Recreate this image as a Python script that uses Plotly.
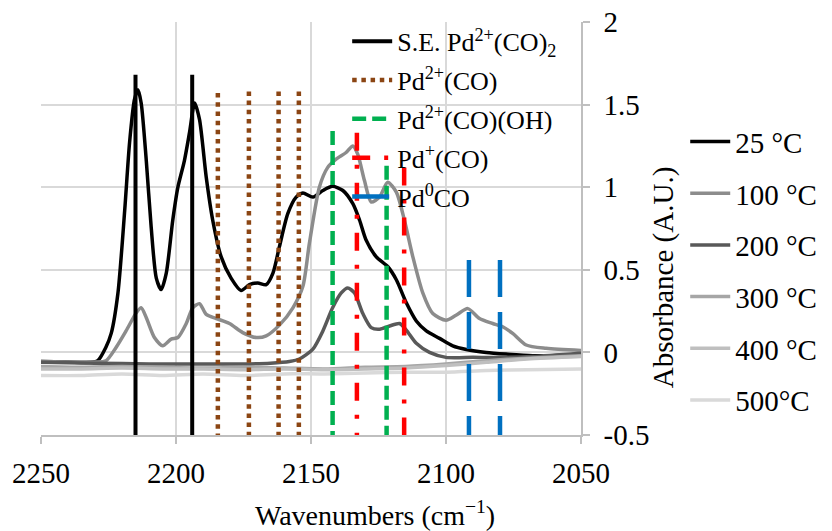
import plotly.graph_objects as go

FONT = "Liberation Serif, DejaVu Serif, Times New Roman, serif"

# ---- spectra (wavenumber, absorbance) ----
wn_25 = [2250, 2240, 2232, 2229, 2226, 2224, 2221.5, 2219, 2217.2, 2215.4, 2214.1, 2212.9, 2211, 2209.2,
         2207.3, 2205.5, 2203.6, 2201.2, 2199.3, 2196.9, 2195, 2193.1, 2191.3, 2188.8, 2186.4, 2183.3,
         2179.6, 2175.9, 2172.8, 2169.7, 2166.6, 2164.1, 2161.7, 2158.6, 2155.5, 2153, 2149.3, 2145.6,
         2142, 2138.2, 2134.5, 2132, 2129.6, 2125.9, 2121.6, 2118.4, 2114.7, 2111, 2107.3, 2102.4,
         2097.5, 2092.5, 2085.1, 2077.7, 2067.9, 2060.4, 2050]
ab_25 = [-0.055, -0.058, -0.06, -0.05, 0.03, 0.115, 0.36, 0.86, 1.27, 1.53, 1.59, 1.51, 1.16, 0.76,
         0.45, 0.38, 0.48, 0.80, 1.0, 1.16, 1.33, 1.51, 1.41, 1.06, 0.80, 0.58,
         0.45, 0.375, 0.41, 0.42, 0.41, 0.48, 0.64, 0.84, 0.94, 0.965, 0.94, 0.98,
         1.005, 0.98, 0.90, 0.80, 0.68, 0.58, 0.52, 0.44, 0.30, 0.19, 0.13, 0.085,
         0.04, 0.018, 0.0, -0.01, -0.02, -0.02, -0.01]

wn_100 = [2250, 2240, 2230, 2225.9, 2222.2, 2218.5, 2214.7, 2212.9, 2211, 2208, 2204.9, 2201.8, 2199.3,
          2196.2, 2193.8, 2191.3, 2188.8, 2185.1, 2180.2, 2175.3, 2170.3, 2166.6, 2161.7, 2156.7, 2153,
          2150.6, 2146.9, 2143.8, 2140.7, 2137, 2134.5, 2132.7, 2130.2, 2127.7, 2124.6, 2121.6, 2118.4,
          2115.4, 2112.3, 2108.6, 2104.9, 2100, 2096.3, 2091.9, 2087.6, 2082.7, 2079, 2075.3, 2070.3,
          2062.9, 2050]
ab_100 = [-0.055, -0.058, -0.058, -0.05, 0.03, 0.13, 0.24, 0.27, 0.21, 0.09, 0.04, 0.08, 0.09,
          0.175, 0.27, 0.295, 0.23, 0.205, 0.175, 0.12, 0.09, 0.10, 0.165, 0.27, 0.40,
          0.66, 1.0, 1.12, 1.17, 1.21, 1.25, 1.20, 1.04, 0.91, 0.94, 1.03, 0.97,
          0.80, 0.58, 0.36, 0.235, 0.195, 0.225, 0.265, 0.205, 0.175, 0.155, 0.115, 0.045,
          0.025, 0.012]

wn_200 = [2250, 2230, 2210, 2190, 2175, 2165, 2158, 2154.3, 2149.3, 2145.6, 2142, 2138.8, 2136.4,
          2133.9, 2130.8, 2127.7, 2124.6, 2120.9, 2117.2, 2114.7, 2111, 2106.1, 2100, 2090, 2078,
          2068, 2050]
ab_200 = [-0.06, -0.065, -0.07, -0.07, -0.07, -0.065, -0.055, -0.04, 0.02, 0.13, 0.27, 0.36, 0.39,
          0.36, 0.235, 0.15, 0.14, 0.16, 0.175, 0.135, 0.055, 0.0, -0.03, -0.03, -0.03,
          -0.025, -0.005]

wn_base = [2250, 2235, 2220, 2205, 2190, 2175, 2160, 2145, 2130, 2115, 2100, 2085, 2070, 2050]
ab_300 = [-0.085, -0.09, -0.085, -0.09, -0.095, -0.09, -0.095, -0.1, -0.09, -0.085, -0.07, -0.05, -0.035, -0.02]
ab_400 = [-0.1, -0.1, -0.095, -0.1, -0.1, -0.105, -0.1, -0.105, -0.1, -0.095, -0.08, -0.06, -0.04, -0.025]
ab_500 = [-0.14, -0.14, -0.13, -0.14, -0.13, -0.14, -0.13, -0.13, -0.125, -0.12, -0.12, -0.11, -0.105, -0.1]

temp_names = ["25 °C", "100 °C", "200 °C", "300 °C", "400 °C", "500°C"]
temp_colors = ["#000000", "#8c8c8c", "#595959", "#a6a6a6", "#bfbfbf", "#d9d9d9"]
temp_x = [wn_25, wn_100, wn_200, wn_base, wn_base, wn_base]
temp_y = [ab_25, ab_100, ab_200, ab_300, ab_400, ab_500]

# ---- reference band positions (wavenumber) and line tops (absorbance) ----
ref_names = ["S.E. Pd<sup>2+</sup>(CO)<sub>2</sub>", "Pd<sup>2+</sup>(CO)", "Pd<sup>2+</sup>(CO)(OH)",
             "Pd<sup>+</sup>(CO)", "Pd<sup>0</sup>CO"]
ref_pos = [[2215, 2194], [2184.5, 2173, 2162, 2154.5], [2142, 2122], [2133, 2115.5], [2091.5, 2080]]
ref_top = [[1.68, 1.68], [1.57, 1.58, 1.58, 1.58], [1.34, 1.13], [1.33, 1.12], [0.56, 0.56]]
ref_bottom = -0.5
ref_colors = ["#000000", "#8b4513", "#00b050", "#ff0000", "#0070c0"]
ref_dash = ["solid", "4.5px,4.7px", "14px,6px", "18px,14px,4px,14px", "37px,15px"]

x_ticks = [2250, 2200, 2150, 2100, 2050]
y_ticks = [-0.5, 0, 0.5, 1, 1.5, 2]
y_ticktext = ["-0.5", "0", "0.5", "1", "1.5", "2"]

fig = go.Figure()

for i, (nm, col, xs, ys) in enumerate(zip(temp_names, temp_colors, temp_x, temp_y)):
    fig.add_trace(go.Scatter(
        x=xs, y=ys, mode="lines", name=nm,
        line=dict(color=col, width=3.5, shape="spline", smoothing=0.7),
        legend="legend2", legendgroup="t%d" % i))

for i, (nm, pos, tops, col, dash) in enumerate(zip(ref_names, ref_pos, ref_top, ref_colors, ref_dash)):
    xs, ys = [], []
    for p, t in zip(pos, tops):
        xs += [p, p, None]
        ys += [t, ref_bottom, None]
    fig.add_trace(go.Scatter(
        x=xs, y=ys, mode="lines", name=nm,
        line=dict(color=col, width=4.5 if i else 4, dash=dash),
        legend="legend", legendgroup="r%d" % i))

fig.update_layout(
    width=832, height=531,
    margin=dict(l=41, r=251, t=22, b=96, autoexpand=False),
    paper_bgcolor="white", plot_bgcolor="white",
    font=dict(family=FONT, size=29, color="black"),
    showlegend=True,
    legend=dict(x=0.567, y=1.01, xanchor="left", yanchor="top",
                bgcolor="rgba(0,0,0,0)", font=dict(family=FONT, size=26),
                tracegroupgap=2, traceorder="grouped", itemwidth=40),
    legend2=dict(x=1.193, y=0.772, xanchor="left", yanchor="top",
                 bgcolor="rgba(0,0,0,0)", font=dict(family=FONT, size=29),
                 tracegroupgap=11, traceorder="grouped", itemwidth=40),
    xaxis=dict(range=[2250, 2050], tickvals=x_ticks, showgrid=True, gridcolor="#d9d9d9", gridwidth=1.5,
               showline=True, linecolor="#bfbfbf", linewidth=1.5, ticks="outside", ticklen=7,
               tickcolor="#bfbfbf", tickwidth=1.5, zeroline=False, ticklabelstandoff=4,
               tickfont=dict(family=FONT, size=29)),
    yaxis=dict(range=[-0.5, 2], side="right", tickvals=y_ticks, ticktext=y_ticktext,
               showgrid=True, gridcolor="#d9d9d9", gridwidth=1.5, zeroline=False,
               showline=True, linecolor="#bfbfbf", linewidth=1.5, ticks="outside", ticklen=7,
               tickcolor="#bfbfbf", tickwidth=1.5, ticklabelstandoff=8,
               tickfont=dict(family=FONT, size=29)),
    annotations=[
        dict(text="Wavenumbers (cm<sup>−1</sup>)", xref="paper", yref="paper", x=0.618, y=-0.19,
             xanchor="center", yanchor="middle", showarrow=False, font=dict(family=FONT, size=28)),
        dict(text="Absorbance (A.U.)", xref="paper", yref="paper", x=1.152, y=0.38,
             xanchor="center", yanchor="middle", textangle=-90, showarrow=False,
             font=dict(family=FONT, size=29)),
    ],
)

fig.write_html("out.html")
